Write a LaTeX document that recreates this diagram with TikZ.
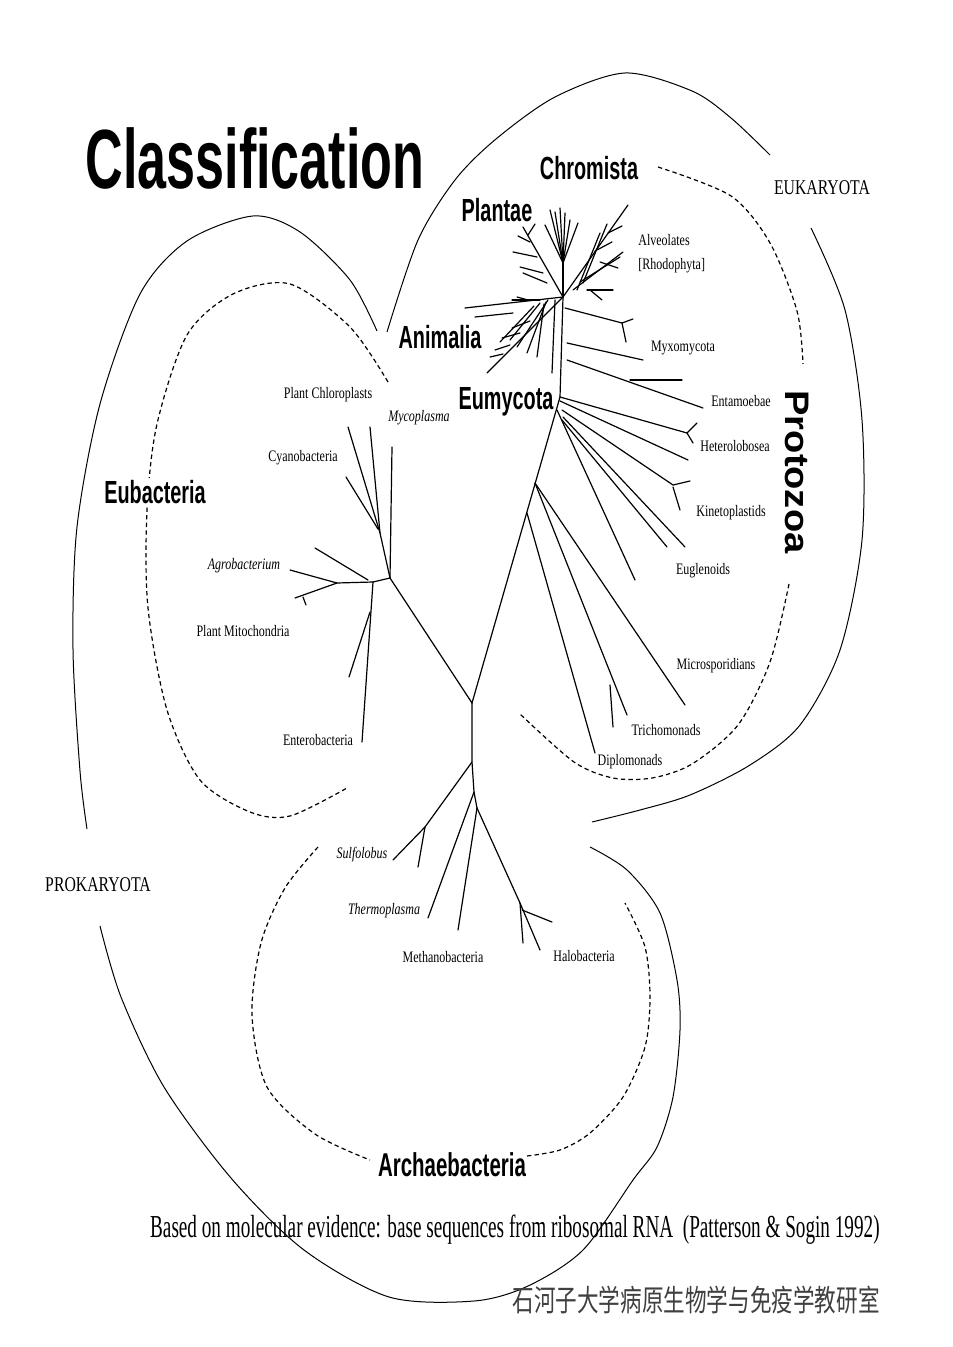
\documentclass[tikz,border=0pt]{standalone}
\usepackage{fontspec}
\setmainfont{Liberation Serif}
\newfontfamily\taxfont{Liberation Serif}[FakeStretch=0.75]
\newfontfamily\grpfont{Liberation Sans}[FakeStretch=0.62]
\newfontfamily\protofont{Liberation Sans}[FakeStretch=1.12]
\newfontfamily\notefont{Liberation Serif}[FakeStretch=0.6]
\newfontfamily\cjkfont{Noto Sans CJK SC}[FakeStretch=0.72]
\tikzset{
  branch/.style={line width=0.6pt,line cap=round},
  ring/.style={line width=0.5pt},
  dashring/.style={line width=0.6pt,dash pattern=on 2.2pt off 1.6pt},
  taxon/.style={inner sep=0pt,font=\taxfont\fontsize{8}{9}\selectfont},
  kingdom/.style={inner sep=0pt,font=\grpfont\bfseries\fontsize{16}{18}\selectfont},
  realm/.style={inner sep=0pt,font=\taxfont\fontsize{10.5}{12}\selectfont},
}
\begin{document}
\begin{tikzpicture}[x=0.5pt,y=-0.5pt]
\fill[white] (0,0) rectangle (952,1347);
\useasboundingbox (0,0) rectangle (952,1347);

\draw[ring] plot[smooth] coordinates {(387,332) (418,240) (455,180) (496,139) (555,97) (625,73) (692,91) (731,118) (770,155)};
\draw[ring] plot[smooth] coordinates {(811,228) (845,310) (862,420) (862,540) (840,650) (800,725) (750,765) (690,795) (640,810) (592,822)};
\draw[dashring] plot[smooth] coordinates {(658,167) (731,196) (770,243) (797,311) (803,364)};
\draw[dashring] plot[smooth] coordinates {(789,584) (770,662) (738,725) (692,764) (652,778) (613,778) (574,762) (520,714)};
\draw[ring] plot[smooth] coordinates {(377,331) (350,280) (300,232) (253,216) (187,241) (140,294) (100,404) (77,527) (73,649) (80,771) (87,829)};
\draw[dashring] plot[smooth] coordinates {(388,382) (350,327) (290,284) (233,294) (187,335) (157,424) (147,510) (148,608) (167,710) (200,780) (250,812) (290,816) (347,788)};
\draw[ring] plot[smooth] coordinates {(100,926) (121,997) (164,1087) (231,1178) (304,1250) (389,1297) (474,1301) (528,1286) (583,1250) (633,1180) (657,1147) (673,1097) (680,1030) (677,980) (660,913) (627,870) (590,847)};
\draw[dashring] plot[smooth] coordinates {(318,847) (285,888) (261,943) (252,1015) (267,1087) (315,1134) (370,1160)};
\draw[dashring] plot[smooth] coordinates {(527,1156) (560,1150) (590,1133) (623,1097) (645,1047) (650,997) (645,947) (625,903)};

\coordinate (root) at (472,703);
\coordinate (eub) at (390,578);
\coordinate (chl) at (380,533);
\coordinate (agro) at (373,582);
\coordinate (euk) at (560,397);
\coordinate (crown) at (563,297);
\coordinate (arc) at (472,762);
\coordinate (sul) at (425,827);
\coordinate (arc2) at (474,792);
\coordinate (arc3) at (477,808);
\coordinate (halo) at (520,903);
\coordinate (mic) at (535,483);
\coordinate (dip) at (527,513);

\draw[branch] (eub) -- (root) -- (euk) -- (crown);
\draw[branch] (root) -- (arc) -- (arc2) -- (arc3);
\draw[branch] (eub) -- (392,447);
\draw[branch] (eub) -- (chl) -- (370,427);
\draw[branch] (chl) -- (348,427);
\draw[branch] (378,529) -- (346,477);
\draw[branch] (eub) -- (agro) -- (362,742);
\draw[branch] (370,612) -- (349,677);
\draw[branch] (agro) -- (337,583) -- (290,570);
\draw[branch] (337,583) -- (295,598);
\draw[branch] (368,580) -- (315,548);
\draw[branch] (303,597) -- (306,605);

\draw[branch] (arc) -- (sul) -- (393,860);
\draw[branch] (sul) -- (418,867);
\draw[branch] (arc2) -- (428,918);
\draw[branch] (arc3) -- (458,930);
\draw[branch] (arc3) -- (halo) -- (540,950);
\draw[branch] (halo) -- (523,943);
\draw[branch] (522,910) -- (552,922);

\draw[branch] (mic) -- (685,705);
\draw[branch] (mic) -- (627,715);
\draw[branch] (610,685) -- (613,727);
\draw[branch] (dip) -- (595,753);
\foreach \x/\y/\u/\v in {565/308/622/323, 622/323/633/319, 622/323/626/342, 567/343/643/360, 567/360/703/408, 630/380/682/380,
    560/397/687/433, 687/433/697/423, 687/433/693/443, 560/401/688/460, 562/410/673/485, 673/485/690/481, 673/487/680/510,
    563/417/685/547, 562/420/667/547, 557/410/635/580}
  \draw[branch] (\x,\y) -- (\u,\v);

\draw[branch] (crown) -- (523,227);
\draw[branch] (crown) -- (563,263);
\draw[branch] (crown) -- (628,205);
\draw[branch] (crown) -- (465,308);
\draw[branch] (crown) -- (487,373);
\draw[branch] (555,300) -- (552,373);
\foreach \x/\y/\u/\v in {537/257/513/252, 543/273/520/267, 547/283/523/273, 530/242/518/236, 528/235/535/224,
    563/263/550/210, 563/263/555/212, 563/263/560/208, 563/263/565/213, 563/263/570/220, 563/263/578/223, 563/263/545/225,
    577/290/600/233, 583/283/607/224, 580/282/620/257, 587/290/613/290, 590/290/602/300, 573/290/623/252, 595/251/612/242,
    608/233/622/226, 600/262/618/268,
    513/313/475/317, 548/300/517/347, 546/302/527/353, 544/304/537/357, 540/303/510/340, 534/306/500/342,
    530/321/512/328, 520/333/502/338, 510/345/495/350, 503/354/490/357, 517/297/528/300, 540/300/512/300}
  \draw[branch] (\x,\y) -- (\u,\v);

\node[inner sep=0pt,font=\grpfont\bfseries\fontsize{42}{46}\selectfont] (title) at (255,158) {Classification};
\node[kingdom] (chromista) at (589,168) {Chromista};
\node[kingdom] (plantae) at (497,210) {Plantae};
\node[kingdom] (animalia) at (440,337) {Animalia};
\node[kingdom] (eumycota) at (506,402) {Eumycota};
\node[kingdom,fill=white,inner sep=1pt] (eubacteria) at (155,492) {Eubacteria};
\node[kingdom,font=\grpfont\bfseries\fontsize{16.5}{18}\selectfont] (archaea) at (452,1165) {Archaebacteria};
\node[inner sep=0pt,rotate=-90,font=\protofont\bfseries\fontsize{17}{19}\selectfont] (protozoa) at (797,472) {Protozoa};
\node[realm] (eukaryota) at (822,188) {EUKARYOTA};
\node[realm] (prokaryota) at (98,885) {PROKARYOTA};

\node[taxon,anchor=west] (alveolates) at (638,240) {Alveolates};
\node[taxon,anchor=west] (rhodophyta) at (638,266) {[Rhodophyta]};
\node[taxon] (myxomycota) at (683,348) {Myxomycota};
\node[taxon] (entamoebae) at (741,401) {Entamoebae};
\node[taxon] (heterolobosea) at (735,446) {Heterolobosea};
\node[taxon] (kinetoplastids) at (731,513) {Kinetoplastids};
\node[taxon] (euglenoids) at (703,571) {Euglenoids};
\node[taxon] (microsporidians) at (716,666) {Microsporidians};
\node[taxon] (trichomonads) at (666,730) {Trichomonads};
\node[taxon] (diplomonads) at (630,762) {Diplomonads};
\node[taxon] (chloroplasts) at (328,395) {Plant Chloroplasts};
\node[taxon] (mycoplasma) at (419,418) {\itshape Mycoplasma};
\node[taxon] (cyanobacteria) at (303,458) {Cyanobacteria};
\node[taxon] (agrobacterium) at (244,566) {\itshape Agrobacterium};
\node[taxon] (mitochondria) at (243,631) {Plant Mitochondria};
\node[taxon] (enterobacteria) at (318,740) {Enterobacteria};
\node[taxon] (sulfolobus) at (362,855) {\itshape Sulfolobus};
\node[taxon] (thermoplasma) at (384,911) {\itshape Thermoplasma};
\node[taxon] (methanobacteria) at (443,957) {Methanobacteria};
\node[taxon] (halobacteria) at (584,956) {Halobacteria};

\node[anchor=east,inner sep=0pt,font=\notefont\fontsize{16}{18}\selectfont] (source) at (880,1230) {Based on molecular evidence: base sequences from ribosomal RNA\ \ (Patterson \& Sogin 1992)};
\node[anchor=east,inner sep=0pt,text=black!75,font=\cjkfont\fontsize{15}{17}\selectfont] (dept) at (880,1300) {石河子大学病原生物学与免疫学教研室};
\end{tikzpicture}
\end{document}
